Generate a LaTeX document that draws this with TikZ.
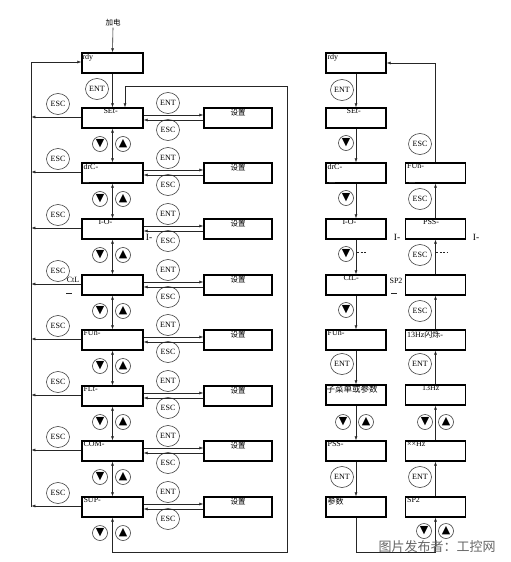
\documentclass[tikz,border=0pt]{standalone}
\usepackage{fontspec}
\setmainfont{Liberation Serif}
\newfontfamily\cjk{Noto Sans CJK SC}
\newfontfamily\sym{DejaVu Sans}
\usetikzlibrary{arrows.meta,shapes.geometric}
\begin{document}
\begin{tikzpicture}[x=1pt,y=-1pt,
  box/.style={draw=black, line width=1.3pt, minimum width=61pt, minimum height=20pt, inner sep=0pt},
  sbox/.style={box, minimum width=68pt},
  lbl/.style={font=\fontsize{8}{8}\selectfont, inner sep=1pt},
  btn/.style={ellipse, draw=black!75, line width=0.6pt, minimum width=23pt, minimum height=21pt, inner sep=0pt, font=\fontsize{8}{8}\selectfont},
  key/.style={circle, draw=black!75, line width=0.6pt, minimum size=15pt, inner sep=0pt, font=\sym\fontsize{11}{11}\selectfont},
  arr/.style={-{Latex[length=4pt,width=3pt]}, line width=0.6pt, draw=black!85},
  darr/.style={{Latex[length=4pt,width=3pt]}-{Latex[length=4pt,width=3pt]}, line width=0.6pt, draw=black!85},
  ln/.style={line width=0.6pt, draw=black!85}
]
\useasboundingbox (0,0) rectangle (511,562);

% ---------- left part ----------
\node[lbl, font=\cjk\fontsize{7.5}{8}\selectfont] (pw) at (113,23) {加电};
\node[box] (R) at (112.5,63) {};
\node[lbl, anchor=north west] (Rt) at (R.north west) {rdy};
\draw[arr] (pw.south) -- (R.north);
\node[btn] (Rn) at (97,89) {ENT};

\foreach \i/\y/\t/\dx in {1/118/SEt-/21, 2/173/drC-/1, 3/229/I-O-/16, 4/285//0, 5/340/FUn-/1, 6/396/FLt-/1, 7/451/COM-/1, 8/507/SUP-/1}{
  \node[box] (L\i) at (112.5,\y) {};
  \node[lbl, anchor=north west] (Lt\i) at ([xshift=\dx pt]L\i.north west) {\t};
  \node[sbox] (S\i) at (238,\y) {};
  \node[lbl, font=\cjk\fontsize{7.5}{8}\selectfont, anchor=north] (St\i) at ([yshift=-1pt]S\i.north) {设置};
  \draw[arr] ([yshift=1pt]L\i.west) -- ++(-50,0);
  \node[btn] (Le\i) at (58,{\y-14}) {ESC};
  \node[btn] (Ln\i) at (168,{\y-15}) {ENT};
  \node[btn] (Ls\i) at (168,{\y+12}) {ESC};
  \draw[arr] ([yshift=3pt]L\i.east) -- ([yshift=3pt]S\i.west);
  \draw[arr] ([yshift=-2pt]S\i.west) -- ([yshift=-2pt]L\i.east);
  \node[key] (Kd\i) at (100,{\y+26}) {▼};
  \node[key] (Ku\i) at (123,{\y+26}) {▲};
}
\draw[arr] (R.south) -- (L1.north);
\foreach \i [evaluate=\i as \j using int(\i+1)] in {1,...,7}{
  \draw[darr] (L\i.south) -- (L\j.north);
}
% outer left loop
\coordinate (lb) at (31,507);
\coordinate (lt) at (31,62);
\draw[arr] (lb) -- (lt) -- (lt -| R.west);
% right loop
\coordinate (rt1) at (125,86);
\coordinate (rt2) at (287,86);
\coordinate (rb2) at (287,552);
\coordinate (rb1) at (112.5,552);
\draw[darr] (L8.south) -- (rb1) -- (rb2) -- (rt2) -- (rt1) -- (rt1 |- L1.north);
% extra texts
\node[lbl, font=\fontsize{9.5}{9.5}\selectfont] (x1) at (149,237) {I-};
\node[lbl] (x2) at (73,280) {CtL};
\draw[ln] (66,293) -- (72,293);
\draw[ln] (83,182) -- (89,182);

% ---------- column A ----------
\foreach \i/\y/\t/\dx in {0/63/rdy/1, 1/118/SEt-/20, 2/173/drC-/1, 3/229/I-O-/16, 4/285/CtL-/17, 5/340/FUn-/1, 6/395/{\cjk\fontsize{8.5}{9}\selectfont 子菜单或参数}/0, 7/451/PSS-/1, 8/507/{\cjk 参数}/1}{
  \node[box, minimum width=60pt] (A\i) at (356,\y) {};
  \node[lbl, anchor=north west] (At\i) at ([xshift=\dx pt]A\i.north west) {\t};
}
\foreach \i [evaluate=\i as \j using int(\i+1)] in {0,...,7}{
  \draw[arr] (A\i.south) -- (A\j.north);
}
\node[btn] (An0) at (342,90) {ENT};
\node[key] (Ad1) at (346,143) {▼};
\node[key] (Ad2) at (346,198) {▼};
\node[key] (Ad3) at (346,254) {▼};
\node[key] (Ad4) at (346,310) {▼};
\node[btn] (An5) at (342,364) {ENT};
\node[key] (Ad6) at (343,422) {▼};
\node[key] (Au6) at (366,422) {▲};
\node[btn] (An7) at (342,477) {ENT};
\draw[ln, dashed, dash pattern=on 2pt off 1.5pt] (357,252) -- (367,252);
\node[lbl, font=\fontsize{9.5}{9.5}\selectfont] (x3) at (397,237) {I-};
\node[lbl] (x4) at (396,281) {SP2};
\draw[ln] (391,293) -- (397,293);
\draw[ln] (329,182) -- (335,182);

% ---------- column B ----------
\foreach \i/\y/\t/\dx in {1/173/FUn-/1, 2/229/PSS-/17, 3/285//0, 4/340/13Hz{\cjk 闪烁}-/1, 5/395/13Hz/16, 6/451/××Hz/1, 7/507/SP2/1}{
  \node[box, minimum width=60pt] (B\i) at (435.5,\y) {};
  \node[lbl, anchor=north west] (Bt\i) at ([xshift=\dx pt]B\i.north west) {\t};
}
\foreach \i [evaluate=\i as \j using int(\i+1)] in {1,...,6}{
  \draw[arr] (B\j.north) -- (B\i.south);
}
\coordinate (bt) at (435.5,63);
\draw[arr] (B1.north) -- (bt) -- (A0.east);
\coordinate (ab) at (356,552);
\coordinate (bb) at (435.5,552);
\draw[arr] (A8.south) -- (ab) -- (bb) -- (B7.south);
\node[btn] (Be1) at (420,144) {ESC};
\node[btn] (Be2) at (420,199) {ESC};
\node[btn] (Be3) at (420,255) {ESC};
\node[btn] (Be4) at (420,311) {ESC};
\node[btn] (Bn5) at (420,364) {ENT};
\node[key] (Bd6) at (425,422) {▼};
\node[key] (Bu6) at (446,422) {▲};
\node[btn] (Bn7) at (420,477) {ENT};
\node[key] (Bd8) at (424,531) {▼};
\node[key] (Bu8) at (446,531) {▲};
\draw[ln, dashed, dash pattern=on 2pt off 1.5pt] (436,252) -- (447,252);
\node[lbl, font=\fontsize{9.5}{9.5}\selectfont] (x5) at (476,237) {I-};
\draw[ln] (409,182) -- (415,182);

% watermark
\node[font=\cjk\fontsize{13}{13}\selectfont, text=black!60, inner sep=0pt] (wm) at (437,547) {图片发布者：工控网};
\end{tikzpicture}
\end{document}
